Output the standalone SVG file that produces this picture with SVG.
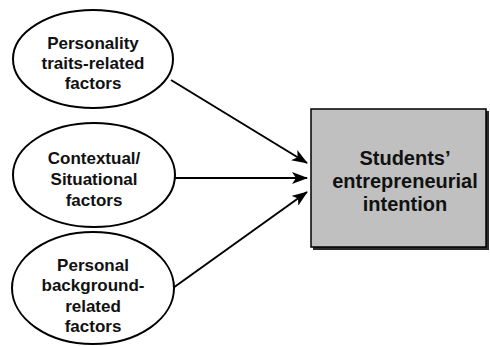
<svg xmlns="http://www.w3.org/2000/svg" width="490" height="346" viewBox="0 0 490 346">
  <defs>
    <style>
      .node ellipse { fill: #ffffff; stroke: #000000; stroke-width: 2; }
      .box { fill: #c0c0c0; stroke: #000000; stroke-width: 1.5; }
      .shadow { fill: #2a2a2a; }
      .lbl { font-family: "Liberation Sans", Arial, sans-serif; font-weight: bold; font-size: 17px; fill: #111111; text-anchor: middle; }
      .big { font-size: 20px; }
      .edge { stroke: #000000; stroke-width: 2; fill: none; marker-end: url(#arrow); }
    </style>
    <marker id="arrow" viewBox="0 0 16 12" refX="15" refY="6" markerWidth="16" markerHeight="12" markerUnits="userSpaceOnUse" orient="auto">
      <path d="M0,0 L16,6 L0,12 L4,6 Z" fill="#000000"/>
    </marker>
  </defs>

  <rect width="490" height="346" fill="#ffffff"/>

  <g id="connectors">
    <line class="edge" x1="171" y1="80" x2="307" y2="163"/>
    <line class="edge" x1="174" y1="178" x2="307" y2="178"/>
    <line class="edge" x1="173" y1="288" x2="307" y2="192"/>
  </g>

  <g id="personality" class="node">
    <ellipse cx="93" cy="59" rx="80" ry="49"/>
    <text class="lbl" x="93" y="49">Personality</text>
    <text class="lbl" x="93" y="69">traits-related</text>
    <text class="lbl" x="93" y="89">factors</text>
  </g>

  <g id="contextual" class="node">
    <ellipse cx="94" cy="175" rx="81" ry="52"/>
    <text class="lbl" x="94" y="164">Contextual/</text>
    <text class="lbl" x="94" y="185">Situational</text>
    <text class="lbl" x="94" y="206">factors</text>
  </g>

  <g id="background" class="node">
    <ellipse cx="93" cy="288" rx="81" ry="56"/>
    <text class="lbl" x="93" y="271">Personal</text>
    <text class="lbl" x="93" y="291">background-</text>
    <text class="lbl" x="93" y="312">related</text>
    <text class="lbl" x="93" y="332">factors</text>
  </g>

  <g id="intention">
    <rect class="shadow" x="313" y="111" width="176" height="139"/>
    <rect class="box" x="311" y="109" width="175" height="138"/>
    <text class="lbl big" x="405" y="165">Students’</text>
    <text class="lbl big" x="405" y="188">entrepreneurial</text>
    <text class="lbl big" x="405" y="211">intention</text>
  </g>
</svg>
